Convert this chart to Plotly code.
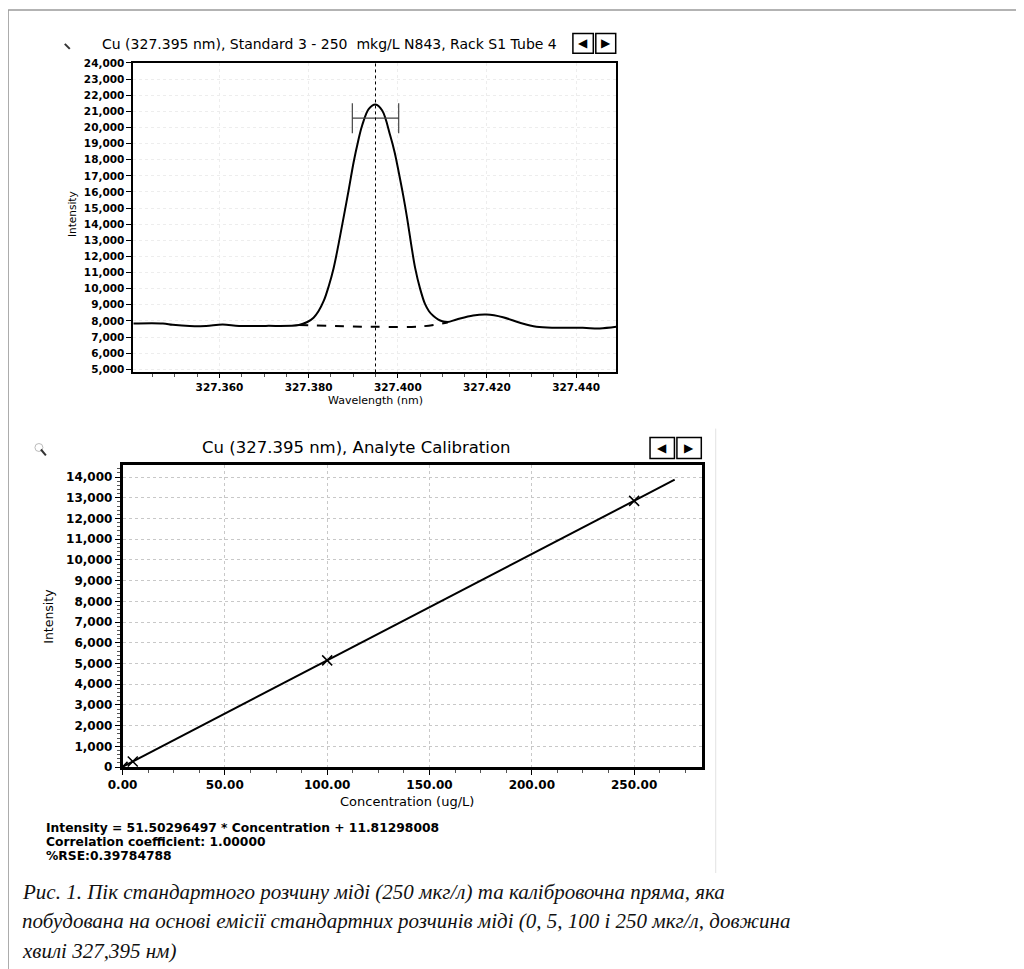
import plotly.graph_objects as go

W, H = 1024, 969

# ---------------- data: emission spectrum (top chart) ----------------
wavelength_nm = [327.3406, 327.3473, 327.3495, 327.3533, 327.3570, 327.3607, 327.3644,
                 327.3704, 327.3778, 327.3797, 327.3811, 327.3822, 327.3834, 327.3845,
                 327.3856, 327.3867, 327.3878, 327.3890, 327.3901, 327.3911, 327.3920,
                 327.3935, 327.3950, 327.3965, 327.3983, 327.3993, 327.4002, 327.4012,
                 327.4021, 327.4030, 327.4039, 327.4050, 327.4061, 327.4070, 327.4080,
                 327.4090, 327.4100, 327.4112, 327.4132, 327.4169, 327.4199, 327.4236,
                 327.4274, 327.4311, 327.4356, 327.4415, 327.4453, 327.4490]
spectrum_intensity = [7840, 7840, 7755, 7675, 7690, 7780, 7690,
                      7690, 7740, 7930, 8200, 8600, 9250, 10150,
                      11270, 12750, 14360, 16150, 17860, 19150, 20120,
                      21150, 21420, 21050, 19500, 18450, 17240, 15800,
                      14360, 12750, 11270, 10000, 9050, 8600, 8300,
                      8100, 7980, 7930, 8085, 8335, 8395, 8230,
                      7880, 7630, 7570, 7570, 7530, 7630]
baseline_wl = [327.3778, 327.3900, 327.3950, 327.4050, 327.4112]
baseline_intensity = [7740, 7650, 7630, 7650, 7900]
peak_wl = 327.395
peak_bar_intensity = 20575
peak_halfwidth = 0.0052

# ---------------- data: calibration (bottom chart) ----------------
std_conc = [0, 5, 100, 250]
std_intensity = [12, 270, 5150, 12850]
fit_conc = [0, 269.8]
fit_intensity = [12, 13870]

top_title = "Cu (327.395 nm), Standard 3 - 250&nbsp;&nbsp;mkg/L N843, Rack S1 Tube 4"
bottom_title = "Cu (327.395 nm), Analyte Calibration"
info_lines = ["Intensity = 51.50296497 * Concentration + 11.81298008",
              "Correlation coefficient: 1.00000",
              "%RSE:0.39784788"]
caption_lines = ["Рис. 1. Пік стандартного розчину міді (250 мкг/л) та калібровочна пряма, яка",
                 "побудована на основі емісії стандартних розчинів міді (0, 5, 100 і 250 мкг/л, довжина",
                 "хвилі 327,395 нм)"]

# page-offset compensation (measured from the rendered screenshot)
OX, OY, S = 21.0, 12.0, 0.99


def fx(p):
    return (p - OX) / S / W


def fy(p):
    return 1 - (p - OY) / S / H


SANS = "DejaVu Sans"
fig = go.Figure()

# top chart traces
fig.add_trace(go.Scatter(x=wavelength_nm, y=spectrum_intensity, mode="lines",
                         line=dict(color="black", width=2, shape="spline", smoothing=1.0),
                         xaxis="x", yaxis="y", hoverinfo="skip"))
fig.add_trace(go.Scatter(x=baseline_wl, y=baseline_intensity, mode="lines",
                         line=dict(color="black", width=2, dash="dash", shape="spline"),
                         xaxis="x", yaxis="y", hoverinfo="skip"))
fig.add_trace(go.Scatter(x=[peak_wl], y=[peak_bar_intensity], mode="markers",
                         marker=dict(size=1, color="rgba(0,0,0,0)"),
                         error_x=dict(type="data", array=[peak_halfwidth], color="#444444",
                                      thickness=1.2, width=15),
                         xaxis="x", yaxis="y", hoverinfo="skip"))

# bottom chart traces
fig.add_trace(go.Scatter(x=fit_conc, y=fit_intensity, mode="lines",
                         line=dict(color="black", width=2),
                         xaxis="x2", yaxis="y2", hoverinfo="skip"))
fig.add_trace(go.Scatter(x=std_conc, y=std_intensity, mode="markers",
                         marker=dict(symbol="x-thin", size=10, line=dict(color="black", width=1.5)),
                         xaxis="x2", yaxis="y2", hoverinfo="skip"))

top_tick_font = dict(family=SANS, size=10.5, color="black", weight="bold")
bot_tick_font = dict(family=SANS, size=12, color="black", weight="bold")

fig.update_layout(
    width=W, height=H, margin=dict(l=0, r=0, t=0, b=0),
    paper_bgcolor="white", plot_bgcolor="white", showlegend=False,
    xaxis=dict(domain=[fx(132), fx(617)], range=[327.3407, 327.4490], anchor="y",
               tick0=327.36, dtick=0.02, tickformat=".3f", ticks="outside", ticklen=4,
               tickcolor="black", minor=dict(dtick=0.005, tick0=327.36, ticks="outside",
                                             ticklen=3, tickcolor="#555", showgrid=False),
               showline=True, mirror=True, linecolor="black", linewidth=2,
               showgrid=True, gridcolor="#ededed", griddash="dot", zeroline=False,
               tickfont=top_tick_font),
    yaxis=dict(domain=[fy(371.7), fy(61)], range=[4800, 24010], anchor="x",
               tick0=5000, dtick=1000, tickformat=",d", ticks="outside", ticklen=5,
               tickcolor="black", showline=True, mirror=True, linecolor="black", linewidth=2,
               showgrid=True, gridcolor="#ededed", griddash="dot", zeroline=False,
               tickfont=top_tick_font),
    xaxis2=dict(domain=[fx(121), fx(703.3)], range=[0, 283.2], anchor="y2",
                tick0=0, dtick=50, tickformat=".2f", ticks="outside", ticklen=5,
                tickcolor="black", minor=dict(dtick=12.5, ticks="outside", ticklen=3,
                                              tickcolor="#555", showgrid=False),
                showline=True, mirror=True, linecolor="black", linewidth=2.5,
                showgrid=True, gridcolor="#c8c8c8", griddash="dot", zeroline=False,
                tickfont=bot_tick_font),
    yaxis2=dict(domain=[fy(767.7), fy(465)], range=[0, 14560], anchor="x2",
                tick0=0, dtick=1000, tickformat=",d", ticks="outside", ticklen=5,
                tickcolor="black", minor=dict(dtick=200, ticks="outside", ticklen=3,
                                              tickcolor="#555", showgrid=False),
                showline=True, mirror=True, linecolor="black", linewidth=2.5,
                showgrid=True, gridcolor="#c8c8c8", griddash="dot", zeroline=False,
                tickfont=bot_tick_font),
)

shapes = []
# vertical dotted line at the peak
shapes.append(dict(type="line", xref="x", yref="y domain", x0=peak_wl, x1=peak_wl, y0=0, y1=1,
                   line=dict(color="black", width=1, dash="dot")))
# frame of the page
shapes.append(dict(type="line", xref="paper", yref="paper", x0=fx(6), x1=fx(6), y0=fy(8), y1=fy(975),
                   line=dict(color="#9a9a9a", width=1.5)))
shapes.append(dict(type="line", xref="paper", yref="paper", x0=fx(6), x1=fx(1030), y0=fy(8), y1=fy(8),
                   line=dict(color="#9a9a9a", width=1.5)))
# faint right edge of the lower screenshot
shapes.append(dict(type="line", xref="paper", yref="paper", x0=fx(717), x1=fx(717),
                   y0=fy(428), y1=fy(874), line=dict(color="#e2e2e2", width=1)))
# navigation buttons
for (x0, x1, y0, y1) in [(573.5, 594, 31.5, 51.5), (596.5, 616.5, 31.5, 51.5),
                         (651, 675.5, 437, 458), (678, 702.5, 437, 458)]:
    shapes.append(dict(type="rect", xref="paper", yref="paper", x0=fx(x0), x1=fx(x1),
                       y0=fy(y1), y1=fy(y0), line=dict(color="black", width=1.5)))
# magnifier icons
shapes.append(dict(type="line", xref="paper", yref="paper", x0=fx(63), x1=fx(68),
                   y0=fy(42), y1=fy(47), line=dict(color="#333", width=2)))
shapes.append(dict(type="circle", xref="paper", yref="paper", x0=fx(33), x1=fx(41),
                   y0=fy(451), y1=fy(443), line=dict(color="#bbb", width=1)))
shapes.append(dict(type="line", xref="paper", yref="paper", x0=fx(39), x1=fx(44),
                   y0=fy(449), y1=fy(455), line=dict(color="#333", width=2)))
fig.update_layout(shapes=shapes)

ann = []


def text(t, x, y, size, xanchor="center", family=SANS, weight="normal", style="normal",
         angle=0, color="black"):
    ann.append(dict(text=t, xref="paper", yref="paper", x=fx(x), y=fy(y), showarrow=False,
                    xanchor=xanchor, yanchor="middle", textangle=angle,
                    font=dict(family=family, size=size, color=color, weight=weight, style=style)))


text(top_title, 328.5, 42, 14)
text("Intensity", 71, 213, 10.5, angle=-90)
text("Wavelength (nm)", 375, 400, 11)
text(bottom_title, 356, 447, 16.5)
text("Intensity", 47, 616, 12.5, angle=-90)
text("Concentration (ug/L)", 407, 802, 13)
for i, line in enumerate(info_lines):
    text(line, 42, 829 + 14 * i, 12.3, xanchor="left", weight="bold")
for i, line in enumerate(caption_lines):
    text(line, 18, 893 + 29.5 * i, 21, xanchor="left", family="Liberation Serif", style="italic",
         color="#111")
# navigation arrows
for (x, y, g) in [(583.7, 41.5, "◀"), (606.5, 41.5, "▶"), (663.2, 447.5, "◀"), (690.2, 447.5, "▶")]:
    text(g, x, y, 12)

fig.update_layout(annotations=ann)
fig.write_html("out.html")
